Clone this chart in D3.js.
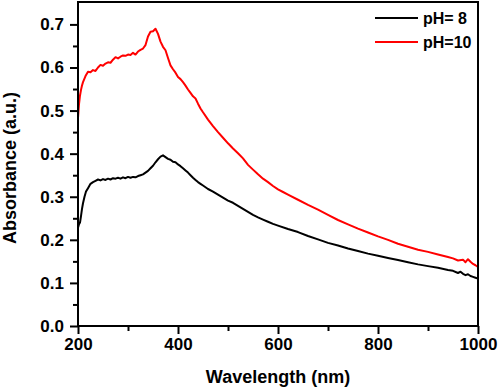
<!DOCTYPE html>
<html>
<head>
<meta charset="utf-8">
<script src="https://cdn.jsdelivr.net/npm/d3@7"></script>
<style>
  html, body { margin: 0; padding: 0; background: #fff; }
  svg { display: block; }
  text { font-family: "Liberation Sans", Arial, sans-serif; font-weight: bold; fill: #000; }
</style>
</head>
<body>
<svg id="chart" width="500" height="388"></svg>
<script>
// ---- Data ----
const wavelengthsPH10 = [200,202,204,206,208,210,215,220,225,230,235,240,245,250,255,260,265,270,275,280,285,290,295,300,305,310,315,320,325,330,335,340,345,350,355,360,365,370,375,380,385,390,395,400,405,410,415,420,425,430,435,440,445,450,460,470,480,490,500,510,520,530,540,550,560,570,580,590,600,610,620,640,660,680,700,720,740,760,780,800,820,840,860,880,900,920,940,950,960,970,975,980,985,990,995,1000];
const absorbancePH10 = [0.483,0.515,0.535,0.548,0.558,0.566,0.580,0.590,0.589,0.594,0.592,0.600,0.606,0.604,0.609,0.612,0.611,0.618,0.624,0.621,0.625,0.628,0.627,0.630,0.629,0.634,0.630,0.637,0.641,0.644,0.652,0.672,0.683,0.684,0.690,0.678,0.660,0.648,0.640,0.622,0.605,0.596,0.588,0.578,0.573,0.566,0.558,0.549,0.541,0.533,0.528,0.516,0.505,0.496,0.479,0.464,0.450,0.437,0.424,0.412,0.401,0.389,0.374,0.363,0.352,0.342,0.334,0.325,0.317,0.311,0.305,0.293,0.281,0.270,0.258,0.246,0.236,0.226,0.217,0.208,0.200,0.191,0.184,0.177,0.172,0.166,0.160,0.157,0.152,0.154,0.148,0.155,0.149,0.144,0.141,0.137];

const wavelengthsPH8 = [200,202,204,206,208,210,213,216,220,225,230,235,240,245,250,255,260,265,270,275,280,285,290,295,300,305,310,315,320,325,330,335,340,345,350,355,360,365,370,375,380,385,390,395,400,405,410,415,420,425,430,435,440,445,450,460,470,480,490,500,510,520,530,540,550,560,570,580,590,600,620,640,660,680,700,720,740,760,780,800,820,840,860,880,900,920,940,950,960,965,970,975,980,985,990,995,1000];
const absorbancePH8 = [0.228,0.236,0.240,0.255,0.272,0.285,0.300,0.312,0.320,0.330,0.334,0.337,0.340,0.338,0.341,0.339,0.342,0.340,0.343,0.342,0.344,0.342,0.345,0.343,0.346,0.344,0.346,0.345,0.348,0.350,0.352,0.356,0.360,0.366,0.372,0.380,0.387,0.393,0.396,0.392,0.388,0.386,0.381,0.380,0.375,0.371,0.366,0.361,0.356,0.350,0.344,0.339,0.334,0.330,0.326,0.318,0.312,0.305,0.298,0.291,0.286,0.279,0.272,0.265,0.258,0.252,0.247,0.242,0.237,0.233,0.225,0.218,0.209,0.201,0.193,0.187,0.180,0.174,0.168,0.163,0.158,0.153,0.148,0.143,0.139,0.135,0.130,0.128,0.123,0.126,0.121,0.118,0.120,0.116,0.114,0.112,0.110];

const seriesNames = ["pH= 8", "pH=10"];
const seriesColors = ["#000000", "#ff0000"];
const xTicks = [200, 400, 600, 800, 1000];
const xMinorTicks = [300, 500, 700, 900];
const yTicks = [0.0, 0.1, 0.2, 0.3, 0.4, 0.5, 0.6, 0.7];
const yMinorTicks = [0.05, 0.15, 0.25, 0.35, 0.45, 0.55, 0.65];
const xTitle = "Wavelength (nm)";
const yTitle = "Absorbance (a.u.)";

// ---- Layout ----
const mLeft = 78, mRight = 478, mTop = 2, mBottom = 326;
const svg = d3.select("#chart");

const x = d3.scaleLinear().domain([200, 1000]).range([mLeft, mRight]);
const y = d3.scaleLinear().domain([0, 0.752]).range([mBottom, mTop]);

// Data lines
const series = [
  { name: seriesNames[0], color: seriesColors[0], xs: wavelengthsPH8, ys: absorbancePH8 },
  { name: seriesNames[1], color: seriesColors[1], xs: wavelengthsPH10, ys: absorbancePH10 }
];
const line = d3.line().x(d => x(d[0])).y(d => y(d[1]));
series.forEach(s => {
  svg.append("path")
    .datum(s.xs.map((w, i) => [w, s.ys[i]]))
    .attr("fill", "none")
    .attr("stroke", s.color)
    .attr("stroke-width", 2)
    .attr("stroke-linejoin", "round")
    .attr("d", line);
});

// Axes
const fontSize = "17px";
const xAxis = svg.append("g").attr("transform", `translate(0,${mBottom})`)
  .call(d3.axisBottom(x).tickValues(xTicks).tickSize(8).tickPadding(4).tickFormat(d3.format("d")));
const xMinor = svg.append("g").attr("transform", `translate(0,${mBottom})`)
  .call(d3.axisBottom(x).tickValues(xMinorTicks).tickSize(5).tickFormat(""));
const yAxis = svg.append("g").attr("transform", `translate(${mLeft},0)`)
  .call(d3.axisLeft(y).tickValues(yTicks).tickSize(8).tickPadding(6).tickFormat(d3.format(".1f")));
const yMinor = svg.append("g").attr("transform", `translate(${mLeft},0)`)
  .call(d3.axisLeft(y).tickValues(yMinorTicks).tickSize(5).tickFormat(""));

[xAxis, xMinor, yAxis, yMinor].forEach(g => {
  g.select(".domain").remove();
  g.selectAll(".tick line").attr("stroke", "#000").attr("stroke-width", 2);
  g.selectAll(".tick text").style("font-size", fontSize).style("font-family", "'Liberation Sans', Arial, sans-serif").style("font-weight", "bold").attr("fill", "#000");
});

// Frame
svg.append("rect")
  .attr("x", mLeft).attr("y", mTop)
  .attr("width", mRight - mLeft).attr("height", mBottom - mTop)
  .attr("fill", "none").attr("stroke", "#000").attr("stroke-width", 2);

// Axis titles
svg.append("text")
  .attr("x", (mLeft + mRight) / 2).attr("y", 383)
  .attr("text-anchor", "middle")
  .style("font-size", "18px")
  .text(xTitle);
svg.append("text")
  .attr("transform", `translate(16,${(mTop + mBottom) / 2 + 4}) rotate(-90)`)
  .attr("text-anchor", "middle")
  .style("font-size", "18px")
  .text(yTitle);

// Legend
const legend = svg.append("g");
series.forEach((s, i) => {
  const ly = 18 + i * 24;
  legend.append("line")
    .attr("x1", 375).attr("x2", 418).attr("y1", ly).attr("y2", ly)
    .attr("stroke", s.color).attr("stroke-width", 2);
  legend.append("text")
    .attr("x", 423).attr("y", ly).attr("dy", "0.35em")
    .style("font-size", "16px")
    .text(s.name);
});
</script>
</body>
</html>
